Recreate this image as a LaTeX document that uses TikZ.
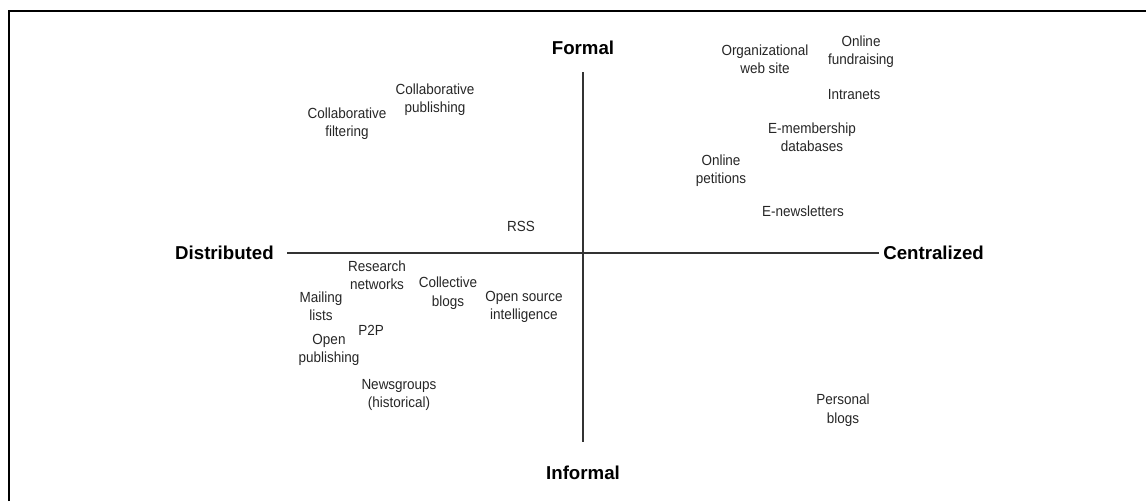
\documentclass[tikz,border=0pt]{standalone}
\usepackage{fontspec}
\setmainfont{Liberation Sans}
\newfontfamily\itemfont[FakeStretch=0.92]{Liberation Sans}
\usetikzlibrary{positioning}

\tikzset{
  pole/.style={font=\fontsize{14}{16}\selectfont\bfseries, inner sep=0pt},
  item/.style={font=\itemfont\fontsize{11}{13.8}\selectfont, align=center, inner sep=0pt, text=black!85},
  axis/.style={thick, black!80}
}

\begin{document}
\begin{tikzpicture}[x=0.75pt,y=-0.75pt]
\useasboundingbox (0,0) rectangle (1146,501);

\draw[line width=1.5pt] (9,501)--(9,10.5)--(1146,10.5);

\node[pole] (formal) at (583,48) {Formal};
\node[pole] (informal) at (583,473) {Informal};
\node[pole,anchor=east] (distributed) at (274,253) {Distributed};
\node[pole,anchor=west] (centralized) at (883,253) {Centralized};

\coordinate[below=12.9pt of formal] (top);
\coordinate[above=18pt of informal] (bottom);
\coordinate[right=9.75pt of distributed] (left);
\coordinate[left=3pt of centralized] (right);

\draw[axis] (left)--(right);
\draw[axis] (top)--(bottom);

\node[item] (filtering) at (347,124) {Collaborative\\filtering};
\node[item] (publishing) at (435,100) {Collaborative\\publishing};
\node[item] (website) at (765,59) {Organizational\\web site};
\node[item] (fundraising) at (861,52) {Online\\fundraising};
\node[item] (intranets) at (854,95) {Intranets};
\node[item] (membership) at (812,137) {E-membership\\databases};
\node[item] (petitions) at (721,171) {Online\\petitions};
\node[item] (newsletters) at (803,211) {E-newsletters};
\node[item] (rss) at (521,226) {RSS};

\node[item] (research) at (377,275) {Research\\networks};
\node[item] (mailing) at (321,306) {Mailing\\lists};
\node[item] (collective) at (448,293) {Collective\\blogs};
\node[item] (osint) at (524,307) {Open source\\intelligence};
\node[item] (ptwop) at (371,330) {P2P};
\node[item] (openpub) at (329,350) {Open\\publishing};
\node[item] (newsgroups) at (399,395) {Newsgroups\\(historical)};
\node[item] (personal) at (843,410) {Personal\\blogs};

\end{tikzpicture}
\end{document}
